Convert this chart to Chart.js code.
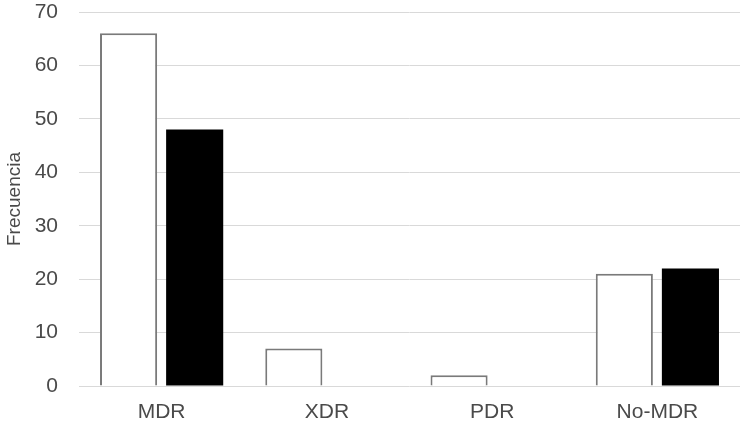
<!DOCTYPE html>
<html><head><meta charset="utf-8">
<script src="https://cdn.jsdelivr.net/npm/chart.js"></script>
<style>html,body{margin:0;padding:0;background:#fff}#w{width:741px;height:423px}</style>
</head><body><div id="w"><canvas id="c"></canvas></div>
<script>
const categories = ["MDR", "XDR", "PDR", "No-MDR"];
const seriesWhite = [66, 7, 2, 21];
const seriesBlack = [48, 0, 0, 22];
const yTicks = [0, 10, 20, 30, 40, 50, 60, 70];

new Chart(document.getElementById('c'), {
  type: 'bar',
  data: {
    labels: categories,
    datasets: [
      { label: 'A', data: seriesWhite, backgroundColor: '#ffffff', borderColor: '#7a7a7a', borderWidth: 2 },
      { label: 'B', data: seriesBlack, backgroundColor: '#000000', borderColor: '#000000', borderWidth: 0 }
    ]
  },
  options: {
    responsive: true, maintainAspectRatio: false, animation: false,
    layout: { padding: { top: 12, right: 1, left: 0, bottom: 0 } },
    datasets: { bar: { categoryPercentage: 0.8, barPercentage: 0.864 } },
    plugins: { legend: { display: false }, tooltip: { enabled: false } },
    scales: {
      x: {
        grid: { display: false }, border: { display: false },
        ticks: { color: '#4a4a4a', font: { family: 'Liberation Sans', size: 21 }, padding: 6 },
        afterFit: s => { s.height = 37; s.paddingLeft = 0; s.paddingRight = 0; }
      },
      y: {
        min: 0, max: 70,
        afterBuildTicks: s => { s.ticks = yTicks.map(v => ({ value: v })); },
        grid: { color: '#d9d9d9', drawTicks: false, lineWidth: 1 }, border: { display: false },
        ticks: { color: '#4a4a4a', font: { family: 'Liberation Sans', size: 21 }, padding: 21 },
        title: { display: true, text: 'Frecuencia', color: '#4a4a4a', font: { family: 'Liberation Sans', size: 19 }, padding: { top: 3, bottom: 0 } },
        afterFit: s => { s.width = 79; s.paddingTop = 0; s.paddingBottom = 0; }
      }
    }
  }
});
</script></body></html>
